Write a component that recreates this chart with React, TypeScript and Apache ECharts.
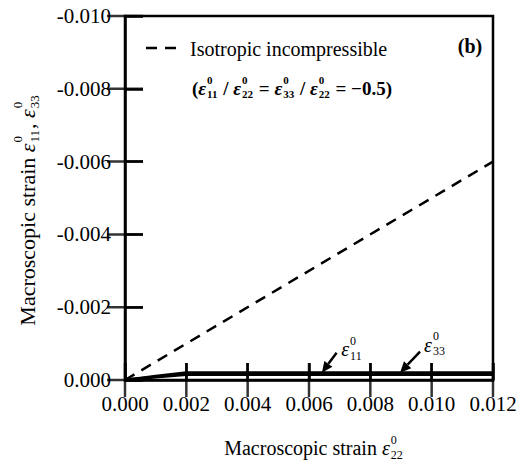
import React, { useEffect, useRef } from "react";
import * as echarts from "echarts";

// ---- data ----
const xTicks = [0, 0.002, 0.004, 0.006, 0.008, 0.01, 0.012];
const yTicks = [-0.01, -0.008, -0.006, -0.004, -0.002, 0];
const isoX = [0, 0.012];
const isoY = [0, -0.006];
const eps11X = [0, 0.0005, 0.001, 0.0015, 0.002, 0.003, 0.006, 0.009, 0.012];
const eps11Y = [0, -0.00004, -0.00008, -0.00012, -0.00015, -0.00015, -0.00015, -0.00015, -0.00015];
const eps33X = [0, 0.0005, 0.001, 0.0015, 0.002, 0.003, 0.006, 0.009, 0.012];
const eps33Y = [0, -0.00005, -0.0001, -0.00015, -0.0002, -0.0002, -0.0002, -0.0002, -0.0002];
// annotation anchors (data space): [labelX, labelY, tailX, tailY, headX, headY]
const ann11 = [0.00705, -0.00085, 0.0069, -0.00075, 0.00642, -0.0002];
const ann33 = [0.00975, -0.00097, 0.00962, -0.00078, 0.00897, -0.0002];

const FONT = '"Liberation Serif", "Times New Roman", serif';
let ctx: CanvasRenderingContext2D | null = null;
function measure(text: string, font: string) {
  if (!ctx) ctx = document.createElement("canvas").getContext("2d");
  ctx!.font = font;
  return ctx!.measureText(text).width;
}
type Part = { t?: string; italic?: boolean; sup?: string; sub?: string };
function formula(parts: Part[], size: number, weight: string) {
  let x = 0;
  const children: any[] = [];
  for (const p of parts) {
    const font = `${p.italic ? "italic" : "normal"} ${weight} ${size}px ${FONT}`;
    if (p.t) {
      children.push({ type: "text", x, y: 0, style: { text: p.t, font, fill: "#000", align: "left", verticalAlign: "middle" } });
      x += measure(p.t, font);
    }
    if (p.sup || p.sub) {
      const s = Math.round(size * 0.6);
      const sf = `normal ${weight} ${s}px ${FONT}`;
      let w = 0;
      if (p.sup) {
        children.push({ type: "text", x: x + 1, y: -size * 0.42, style: { text: p.sup, font: sf, fill: "#000", align: "left", verticalAlign: "middle" } });
        w = Math.max(w, measure(p.sup, sf));
      }
      if (p.sub) {
        children.push({ type: "text", x: x + 1, y: size * 0.33, style: { text: p.sub, font: sf, fill: "#000", align: "left", verticalAlign: "middle" } });
        w = Math.max(w, measure(p.sub, sf));
      }
      x += w + 2;
    }
  }
  return { children, width: x };
}
function group(parts: Part[], size: number, weight: string, x: number, y: number, anchor: "left" | "center", rotation = 0) {
  const f = formula(parts, size, weight);
  const dx = anchor === "center" ? -f.width / 2 : 0;
  return {
    type: "group",
    x,
    y,
    rotation,
    children: f.children.map((c) => ({ ...c, x: c.x + dx })),
  };
}

export default function App() {
  const ref = useRef<HTMLDivElement>(null);
  useEffect(() => {
    const chart = echarts.init(ref.current!, null, { renderer: "svg" });
    const axisStyle = { color: "#000", width: 2.5 };
    const labelStyle = { color: "#000", fontSize: 21, fontFamily: FONT };
    chart.setOption({
      animation: false,
      backgroundColor: "#fff",
      grid: { left: 125, right: 36, top: 16, bottom: 82, show: true, borderColor: "#000", borderWidth: 2.5, backgroundColor: "transparent" },
      xAxis: {
        type: "value",
        min: 0,
        max: 0.012,
        interval: 0.002,
        axisLine: { show: true, onZero: false, lineStyle: axisStyle },
        axisTick: { show: true, inside: true, length: 17, lineStyle: axisStyle },
        axisLabel: { ...labelStyle, margin: 13, formatter: (v: number) => v.toFixed(3) },
        splitLine: { show: false },
      },
      yAxis: {
        type: "value",
        min: -0.01,
        max: 0,
        interval: 0.002,
        inverse: true,
        axisLine: { show: true, onZero: false, lineStyle: axisStyle },
        axisTick: { show: true, inside: true, length: 18, lineStyle: axisStyle },
        axisLabel: { ...labelStyle, margin: 14, formatter: (v: number) => (Math.abs(v) < 1e-12 ? "0.000" : v.toFixed(3)) },
        splitLine: { show: false },
      },
      series: [
        {
          type: "line",
          data: isoX.map((x, i) => [x, isoY[i]]),
          symbol: "none",
          lineStyle: { color: "#000", width: 2.5, type: [11, 8] },
        },
        {
          type: "line",
          data: eps11X.map((x, i) => [x, eps11Y[i]]),
          symbol: "none",
          lineStyle: { color: "#000", width: 3 },
        },
        {
          type: "line",
          data: eps33X.map((x, i) => [x, eps33Y[i]]),
          symbol: "none",
          lineStyle: { color: "#000", width: 3 },
        },
        {
          type: "scatter",
          silent: true,
          z: 10,
          data: xTicks.map((v) => [v, 0]),
          symbol: "rect",
          symbolSize: [2.5, 34],
          itemStyle: { color: "#000" },
        },
        {
          type: "scatter",
          silent: true,
          z: 10,
          data: yTicks.map((v) => [0, v]),
          symbol: "rect",
          symbolSize: [36, 2.5],
          itemStyle: { color: "#000" },
        },
      ],
    });

    const px = (x: number, y: number) => chart.convertToPixel({ gridIndex: 0 }, [x, y]) as number[];
    const arrow = (a: number[]) => {
      const t = px(a[2], a[3]);
      const h = px(a[4], a[5]);
      const ang = Math.atan2(h[1] - t[1], h[0] - t[0]);
      const L = 11, W = 5;
      const bx = h[0] - L * Math.cos(ang), by = h[1] - L * Math.sin(ang);
      const nx = -Math.sin(ang) * W, ny = Math.cos(ang) * W;
      return [
        { type: "line", shape: { x1: t[0], y1: t[1], x2: bx, y2: by }, style: { stroke: "#000", lineWidth: 2.5 } },
        { type: "polygon", shape: { points: [[h[0], h[1]], [bx + nx, by + ny], [bx - nx, by - ny]] }, style: { fill: "#000" } },
      ];
    };
    const l11 = px(ann11[0], ann11[1]);
    const l33 = px(ann33[0], ann33[1]);
    const eps = (sub: string): Part => ({ t: "ε", italic: true, sup: "0", sub });

    chart.setOption({
      graphic: [
        { type: "line", shape: { x1: 146, y1: 48, x2: 177, y2: 48 }, style: { stroke: "#000", lineWidth: 2.5, lineDash: [11, 8] } },
        { type: "text", x: 190, y: 49, style: { text: "Isotropic incompressible", font: `normal normal 20px ${FONT}`, fill: "#000", align: "left", verticalAlign: "middle" } },
        { type: "text", x: 470, y: 46, style: { text: "(b)", font: `normal bold 20px ${FONT}`, fill: "#000", align: "center", verticalAlign: "middle" } },
        group(
          [{ t: "(" }, eps("11"), { t: " / " }, eps("22"), { t: " = " }, eps("33"), { t: " / " }, eps("22"), { t: " = −0.5)" }],
          19, "bold", 192, 88, "left"
        ),
        group([{ t: "Macroscopic strain " }, eps("22")], 20, "normal", 314, 448, "center"),
        group([{ t: "Macroscopic strain " }, eps("11"), { t: ", " }, eps("33")], 22, "normal", 27, 210, "center", Math.PI / 2),
        group([eps("11")], 20, "normal", l11[0], l11[1], "left"),
        group([eps("33")], 20, "normal", l33[0], l33[1], "left"),
        ...arrow(ann11),
        ...arrow(ann33),
      ],
    });
    return () => chart.dispose();
  }, []);
  return <div ref={ref} style={{ position: "fixed", left: 0, top: 0, width: 529, height: 462 }} />;
}
